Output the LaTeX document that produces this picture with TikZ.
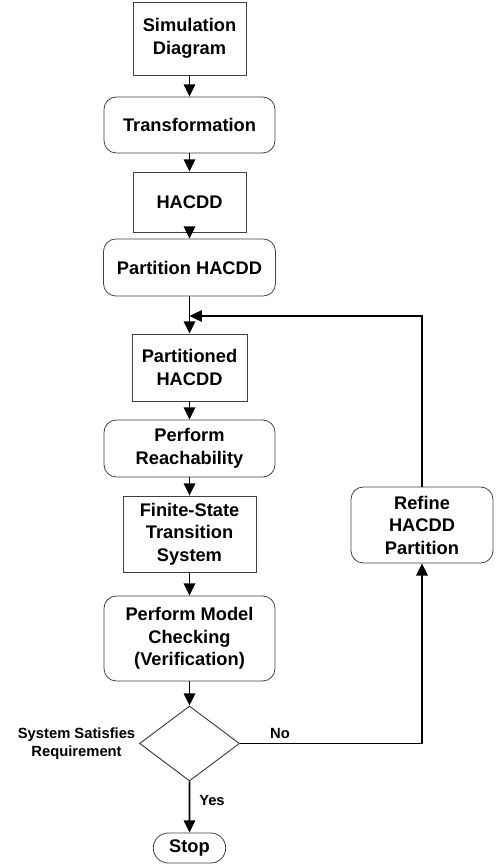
\documentclass[tikz,border=0pt]{standalone}
\usepackage{fontspec}
\setmainfont{Liberation Sans}
\usetikzlibrary{shapes.geometric,shapes.misc,arrows.meta}

\tikzset{
  box/.style={draw=black!75, line width=0.45pt, rectangle, align=center, inner sep=1pt,
    font=\bfseries\fontsize{10.4}{12.8}\selectfont},
  rbox/.style={box, rounded corners=7pt},
  decision/.style={draw=black!80, line width=0.5pt, diamond, inner sep=0pt},
  stopbox/.style={box, rounded rectangle},
  flow/.style={-{Triangle[length=7pt,width=6.5pt]}, line width=1.1pt},
  lbl/.style={font=\bfseries\fontsize{8.4}{10.2}\selectfont, align=center, inner sep=2pt}
}

\begin{document}
\begin{tikzpicture}[x=0.02cm, y=-0.02cm]
				\useasboundingbox (0,0) rectangle (500,865);

				% Main chain of steps
				\node[box, minimum width=2.26cm, minimum height=1.46cm] (sim) at (189.5,38.5) {Simulation\\Diagram};
				\node[rbox, minimum width=3.42cm, minimum height=1.12cm] (trans) at (189.5,125) {Transformation};
				\node[box, minimum width=2.26cm, minimum height=1.2cm] (hacdd) at (189.5,202) {HACDD};
				\node[rbox, minimum width=3.44cm, minimum height=1.14cm] (part) at (189.5,267.5) {Partition HACDD};
				\node[box, minimum width=2.3cm, minimum height=1.34cm] (parted) at (189.5,367.5) {Partitioned\\HACDD};
				\node[rbox, minimum width=3.42cm, minimum height=1.14cm] (reach) at (189.5,448.5) {Perform\\Reachability};
				\node[box, minimum width=2.66cm, minimum height=1.52cm] (fsts) at (189.5,534) {Finite-State\\Transition\\System};
				\node[rbox, minimum width=3.42cm, minimum height=1.7cm] (check) at (189.5,638.5) {Perform Model\\Checking\\(Verification)};
				\node[decision, minimum width=2cm, minimum height=1.5cm] (sat) at (189.5,743.5) {};
				\node[stopbox, minimum width=1.52cm, minimum height=0.6cm] (stop) at (189.5,848) {Stop};

				% Refinement step on the right
				\node[rbox, minimum width=2.84cm, minimum height=1.52cm] (refine) at (422,525) {Refine\\HACDD\\Partition};

				% Decision label
				\node[lbl, anchor=east] (satlbl) at (sat.west) {System Satisfies\\Requirement};

				% Join point of the loop
				\coordinate (join) at (189.5,316);

				% Draw the arrows
				\draw[flow] (sim) -- (trans);
				\draw[flow] (trans) -- (hacdd);
				\draw[flow] (hacdd) -- (part);
				\draw[flow] (part) -- (parted);
				\draw[flow] (parted) -- (reach);
				\draw[flow] (reach) -- (fsts);
				\draw[flow] (fsts) -- (check);
				\draw[flow] (check) -- (sat);
				\draw[flow] (sat) -- node[lbl, pos=0.37, right, xshift=3pt] (yes) {Yes} (stop);
				\draw[flow] (sat.east) -| node[lbl, pos=0.11, above] (no) {No} (refine.south);
				\draw[flow] (refine.north) |- (join);
			\end{tikzpicture}
\end{document}
